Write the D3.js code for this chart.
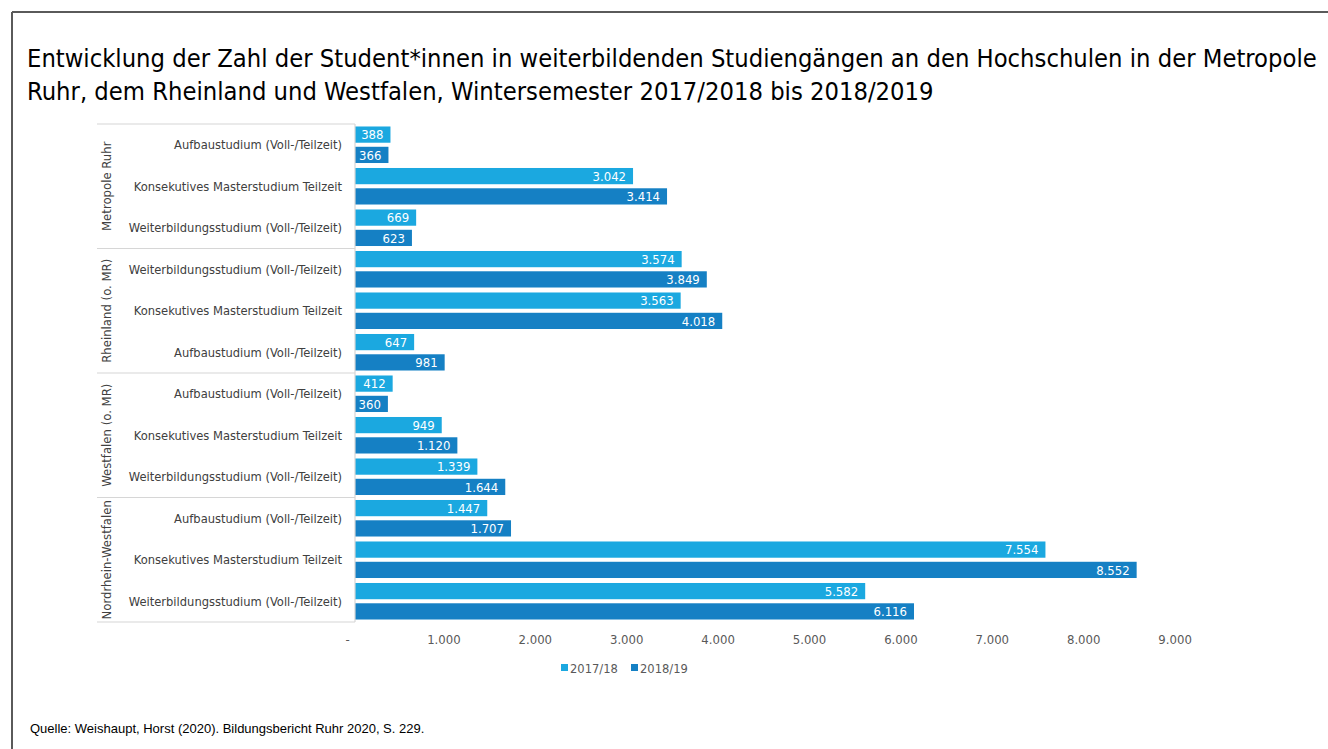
<!DOCTYPE html>
<html>
<head>
<meta charset="utf-8">
<script src="https://cdn.jsdelivr.net/npm/d3@7"></script>
<style>
  html, body { margin: 0; padding: 0; background: #fff; }
  svg { display: block; }
</style>
</head>
<body>
<svg id="chart" width="1328" height="749"></svg>
<script>
// ---- data ----
const titleLines = [
  "Entwicklung der Zahl der Student*innen in weiterbildenden Studiengängen an den Hochschulen in der Metropole",
  "Ruhr, dem Rheinland und Westfalen, Wintersemester 2017/2018 bis 2018/2019"
];
const sourceText = "Quelle: Weishaupt, Horst (2020). Bildungsbericht Ruhr 2020, S. 229.";
const seriesNames = ["2017/18", "2018/19"];
const regions = ["Metropole Ruhr", "Rheinland (o. MR)", "Westfalen (o. MR)", "Nordrhein-Westfalen"];
const categoriesByRegion = [
  ["Aufbaustudium (Voll-/Teilzeit)", "Konsekutives Masterstudium Teilzeit", "Weiterbildungsstudium (Voll-/Teilzeit)"],
  ["Weiterbildungsstudium (Voll-/Teilzeit)", "Konsekutives Masterstudium Teilzeit", "Aufbaustudium (Voll-/Teilzeit)"],
  ["Aufbaustudium (Voll-/Teilzeit)", "Konsekutives Masterstudium Teilzeit", "Weiterbildungsstudium (Voll-/Teilzeit)"],
  ["Aufbaustudium (Voll-/Teilzeit)", "Konsekutives Masterstudium Teilzeit", "Weiterbildungsstudium (Voll-/Teilzeit)"]
];
const values2017 = [388, 3042, 669, 3574, 3563, 647, 412, 949, 1339, 1447, 7554, 5582];
const values2018 = [366, 3414, 623, 3849, 4018, 981, 360, 1120, 1644, 1707, 8552, 6116];
const xTicks = [0, 1000, 2000, 3000, 4000, 5000, 6000, 7000, 8000, 9000];

// ---- build rows ----
const rows = [];
categoriesByRegion.forEach((cats, ri) => {
  cats.forEach((c, ci) => {
    const i = rows.length;
    rows.push({ id: i, region: regions[ri], regionIndex: ri, category: c, values: [values2017[i], values2018[i]] });
  });
});

const colors = ["#1ba8e0", "#1580c4"];
const font = "'DejaVu Sans Condensed', 'DejaVu Sans', sans-serif";
const de = d3.formatLocale({ decimal: ",", thousands: ".", grouping: [3], currency: ["", " €"] });
const fmt = de.format(",d");

const svg = d3.select("#chart");

// frame lines (top and left)
svg.append("line").attr("x1", 12).attr("x2", 1328).attr("y1", 12).attr("y2", 12)
  .attr("stroke", "#5a5a5a").attr("stroke-width", 2);
svg.append("line").attr("x1", 12).attr("x2", 12).attr("y1", 12).attr("y2", 749)
  .attr("stroke", "#5a5a5a").attr("stroke-width", 2);

// title
svg.append("g").selectAll("text").data(titleLines).join("text")
  .attr("x", 27).attr("y", (d, i) => 67 + i * 33)
  .attr("font-family", font).attr("font-size", 25.3).attr("fill", "#000")
  .text(d => d);

// scales
const x = d3.scaleLinear().domain([0, 9000]).range([355, 1177.6]);
const y0 = d3.scaleBand().domain(rows.map(r => r.id)).range([124, 622])
  .paddingInner(0.12).paddingOuter(0.06);
const y1 = d3.scaleBand().domain([0, 1]).range([0, y0.bandwidth()]).paddingInner(0.2);

// bars
const g = svg.append("g");
const rowG = g.selectAll("g.row").data(rows).join("g").attr("class", "row")
  .attr("transform", d => `translate(0,${y0(d.id)})`);
const barData = d => d.values.map((v, k) => ({ v, k }));
rowG.selectAll("rect").data(barData).join("rect")
  .attr("x", x(0)).attr("y", d => y1(d.k))
  .attr("width", d => x(d.v) - x(0)).attr("height", y1.bandwidth())
  .attr("fill", d => colors[d.k]);
rowG.selectAll("text").data(barData).join("text")
  .attr("x", d => x(d.v) - 7).attr("y", d => y1(d.k) + y1.bandwidth() / 2 + 4.8)
  .attr("text-anchor", "end").attr("font-family", font).attr("font-size", 13)
  .attr("fill", "#fff").text(d => fmt(d.v));

// category axis (left labels with grouping boxes)
const lineColor = "#d6d6d6";
const catG = svg.append("g");
catG.selectAll("text").data(rows).join("text")
  .attr("x", 342).attr("y", d => y0(d.id) + y0.bandwidth() / 2 + 4.5)
  .attr("text-anchor", "end").attr("font-family", font).attr("font-size", 12.8)
  .attr("fill", "#404040").text(d => d.category);

const groupBounds = regions.map((r, ri) => {
  const rs = rows.filter(d => d.regionIndex === ri);
  const top = y0(rs[0].id) - y0.step() * y0.paddingInner() / 2;
  const bottom = y0(rs[rs.length - 1].id) + y0.bandwidth() + y0.step() * y0.paddingInner() / 2;
  return { region: r, top, bottom };
});
// horizontal separators
const sepYs = [124].concat(groupBounds.slice(0, -1).map(b => b.bottom)).concat([622]);
catG.selectAll("line.sep").data(sepYs).join("line").attr("class", "sep")
  .attr("x1", 97).attr("x2", 355).attr("y1", d => d).attr("y2", d => d)
  .attr("stroke", lineColor).attr("stroke-width", 1.2);
catG.append("line").attr("x1", 355).attr("x2", 355).attr("y1", 124).attr("y2", 622)
  .attr("stroke", lineColor).attr("stroke-width", 1.2);
// region labels
catG.selectAll("text.region").data(groupBounds).join("text").attr("class", "region")
  .attr("transform", d => `translate(111,${(d.top + d.bottom) / 2}) rotate(-90)`)
  .attr("text-anchor", "middle").attr("font-family", font).attr("font-size", 13)
  .attr("fill", "#404040").text(d => d.region);

// x axis (labels only)
const xAxis = d3.axisBottom(x).tickValues(xTicks).tickSize(0).tickPadding(0)
  .tickFormat(d => d === 0 ? "-" : fmt(d));
const xg = svg.append("g").attr("transform", "translate(0,635)").call(xAxis);
xg.select(".domain").remove();
xg.selectAll("text").attr("font-family", font).attr("font-size", 13).attr("fill", "#595959")
  .attr("dx", d => d === 0 ? -8 : -3);

// legend
const legend = svg.append("g").attr("transform", "translate(561,668)");
const legItems = legend.selectAll("g").data(seriesNames).join("g")
  .attr("transform", (d, i) => `translate(${i * 70},0)`);
legItems.append("rect").attr("x", 0).attr("y", -4).attr("width", 7).attr("height", 7)
  .attr("fill", (d, i) => colors[i]);
legItems.append("text").attr("x", 9).attr("y", 4.5).attr("font-family", font)
  .attr("font-size", 12.8).attr("fill", "#595959").text(d => d);

// source
svg.append("text").attr("x", 30).attr("y", 733)
  .attr("font-family", "'Liberation Sans', Arial, sans-serif").attr("font-size", 13)
  .attr("fill", "#000").text(sourceText);
</script>
</body>
</html>
